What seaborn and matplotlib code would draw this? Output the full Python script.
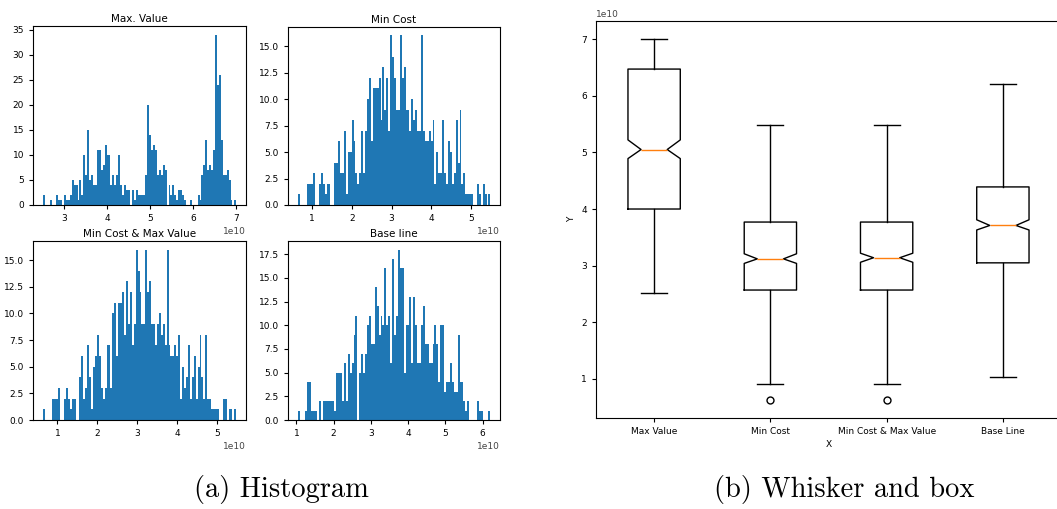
import numpy as np
import pandas as pd
import matplotlib
matplotlib.use("Agg")
import matplotlib.pyplot as plt
from matplotlib.ticker import MultipleLocator
import seaborn as sns

# ---- histogram bin counts (100 equal-width bins between each series' min and max, units of 1e10) ----
max_value_range = (2.51, 7.00)
max_value_counts = [
    2, 0, 0, 0, 1, 0, 0, 2, 1, 1, 0, 2, 1, 1, 2, 5, 4, 4, 1, 5,
    2, 10, 6, 15, 5, 6, 4, 4, 11, 11, 7, 8, 12, 10, 10, 4, 6, 4, 6, 10,
    4, 2, 4, 3, 3, 0, 3, 1, 3, 2, 2, 2, 2, 6, 20, 14, 11, 12, 11, 6,
    7, 6, 8, 7, 0, 4, 2, 4, 2, 1, 3, 3, 2, 1, 0, 0, 1, 0, 0, 0,
    2, 1, 6, 8, 13, 7, 8, 7, 11, 34, 24, 26, 13, 6, 6, 7, 5, 1, 0, 1,
]

min_cost_range = (0.63, 5.49)
min_cost_counts = [
    1, 0, 0, 0, 0, 2, 2, 2, 3, 0, 0, 2, 3, 2, 1, 2, 2, 0, 0, 4,
    4, 6, 3, 3, 7, 1, 5, 5, 8, 6, 3, 2, 3, 7, 3, 7, 10, 12, 6, 11,
    11, 11, 12, 8, 13, 9, 12, 7, 16, 14, 12, 9, 9, 16, 12, 13, 9, 9, 7, 10,
    8, 9, 7, 7, 16, 7, 6, 6, 7, 6, 8, 2, 5, 3, 3, 8, 3, 2, 6, 5,
    2, 3, 8, 4, 9, 2, 3, 1, 1, 1, 1, 0, 0, 2, 1, 0, 2, 1, 0, 1,
]

min_cost_max_value_range = (0.63, 5.49)
min_cost_max_value_counts = [
    1, 0, 0, 0, 0, 2, 2, 2, 3, 0, 0, 2, 3, 2, 1, 2, 2, 0, 0, 4,
    6, 2, 3, 7, 4, 1, 5, 6, 8, 6, 3, 2, 3, 7, 7, 3, 10, 11, 6, 11,
    11, 12, 8, 13, 9, 12, 7, 9, 16, 14, 12, 9, 9, 16, 12, 13, 9, 9, 7, 9,
    10, 8, 9, 7, 16, 7, 6, 6, 7, 6, 8, 2, 5, 3, 4, 7, 2, 4, 6, 2,
    5, 8, 4, 2, 8, 2, 2, 1, 1, 1, 1, 0, 0, 2, 2, 0, 1, 1, 0, 1,
]

base_line_range = (1.035, 6.21)
base_line_counts = [
    1, 0, 0, 0, 1, 4, 4, 1, 1, 1, 0, 2, 0, 2, 2, 2, 2, 2, 2, 1,
    5, 5, 5, 2, 6, 2, 7, 5, 6, 9, 11, 0, 5, 7, 5, 7, 10, 11, 8, 8,
    14, 12, 9, 11, 10, 16, 10, 11, 6, 17, 9, 11, 18, 16, 16, 5, 10, 10, 13, 6,
    13, 10, 6, 6, 10, 12, 8, 8, 6, 6, 8, 10, 8, 4, 10, 10, 3, 4, 4, 6,
    4, 3, 3, 9, 4, 4, 2, 1, 2, 0, 0, 0, 0, 2, 1, 1, 0, 0, 0, 1,
]

hist_titles = ["Max. Value", "Min Cost", "Min Cost & Max Value", "Base line"]
hist_ytick_steps = [5, 2.5, 2.5, 2.5]

# ---- box-and-whisker summary statistics (units of 1e10) ----
box_labels = ["Max Value", "Min Cost", "Min Cost & Max Value", "Base Line"]
box_med = [5.05, 3.12, 3.14, 3.71]
box_q1 = [4.00, 2.57, 2.57, 3.05]
box_q3 = [6.47, 3.77, 3.77, 4.39]
box_whislo = [2.52, 0.906, 0.906, 1.035]
box_whishi = [7.00, 5.49, 5.49, 6.21]
box_cilo = [4.89, 3.04, 3.06, 3.63]
box_cihi = [5.22, 3.21, 3.22, 3.81]
box_fliers = [[], [0.63], [0.63], []]

SCALE = 1e10

plt.rcParams.update({
    "font.family": "DejaVu Sans",
    "xtick.labelsize": 6.5,
    "ytick.labelsize": 6.5,
    "axes.titlesize": 7.5,
    "axes.labelsize": 6.5,
    "axes.linewidth": 0.8,
    "xtick.major.size": 3,
    "ytick.major.size": 3,
})

fig = plt.figure(figsize=(10.57, 5.09), dpi=100)

W, H = 1057.0, 509.0


def axes_px(left, top, right, bottom):
    return fig.add_axes([left / W, 1 - bottom / H, (right - left) / W, (bottom - top) / H])


hist_axes = [
    axes_px(33, 26, 246, 205),
    axes_px(288, 27, 500, 205),
    axes_px(33, 241, 246, 420),
    axes_px(288, 241, 500, 420),
]

hist_data = [
    (max_value_range, max_value_counts),
    (min_cost_range, min_cost_counts),
    (min_cost_max_value_range, min_cost_max_value_counts),
    (base_line_range, base_line_counts),
]

for ax, (rng, counts), title, step in zip(hist_axes, hist_data, hist_titles, hist_ytick_steps):
    counts = np.asarray(counts, dtype=float)
    edges = np.linspace(rng[0], rng[1], len(counts) + 1) * SCALE
    frame = pd.DataFrame({
        "value": 0.5 * (edges[:-1] + edges[1:]),
        "count": counts,
    })
    sns.histplot(data=frame, x="value", weights="count", bins=list(edges), ax=ax,
                 color="#1f77b4", alpha=1.0, linewidth=0, element="bars")
    ax.set_title(title, pad=3)
    ax.set_xlabel("")
    ax.set_ylabel("")
    ax.yaxis.set_major_locator(MultipleLocator(step))
    ax.xaxis.get_offset_text().set_fontsize(6.5)
    ax.xaxis.get_offset_text().set_color("#444444")

# ---- notched box plot ----
box_ax = axes_px(596, 21, 1061, 418)
stats = []
for i, lab in enumerate(box_labels):
    stats.append({
        "label": lab,
        "med": box_med[i] * SCALE,
        "q1": box_q1[i] * SCALE,
        "q3": box_q3[i] * SCALE,
        "whislo": box_whislo[i] * SCALE,
        "whishi": box_whishi[i] * SCALE,
        "cilo": box_cilo[i] * SCALE,
        "cihi": box_cihi[i] * SCALE,
        "fliers": np.asarray(box_fliers[i]) * SCALE,
    })
box_ax.bxp(stats, shownotches=True,
           flierprops=dict(marker="o", markerfacecolor="none",
                           markeredgecolor="black", markersize=5))
box_ax.set_xlim(0.5, 4.5)
box_ax.set_xlabel("X", labelpad=3)
box_ax.set_ylabel("Y", labelpad=4)
box_ax.yaxis.get_offset_text().set_fontsize(6.5)
box_ax.yaxis.get_offset_text().set_color("#444444")

# ---- sub-figure captions ----
fig.text(281 / W, 1 - 490 / H, "(a) Histogram", family="cmr10",
         fontsize=20.5, ha="center", va="center")
fig.text(844 / W, 1 - 490 / H, "(b) Whisker and box", family="cmr10",
         fontsize=20.5, ha="center", va="center")

fig.savefig("out.png", dpi=100)
